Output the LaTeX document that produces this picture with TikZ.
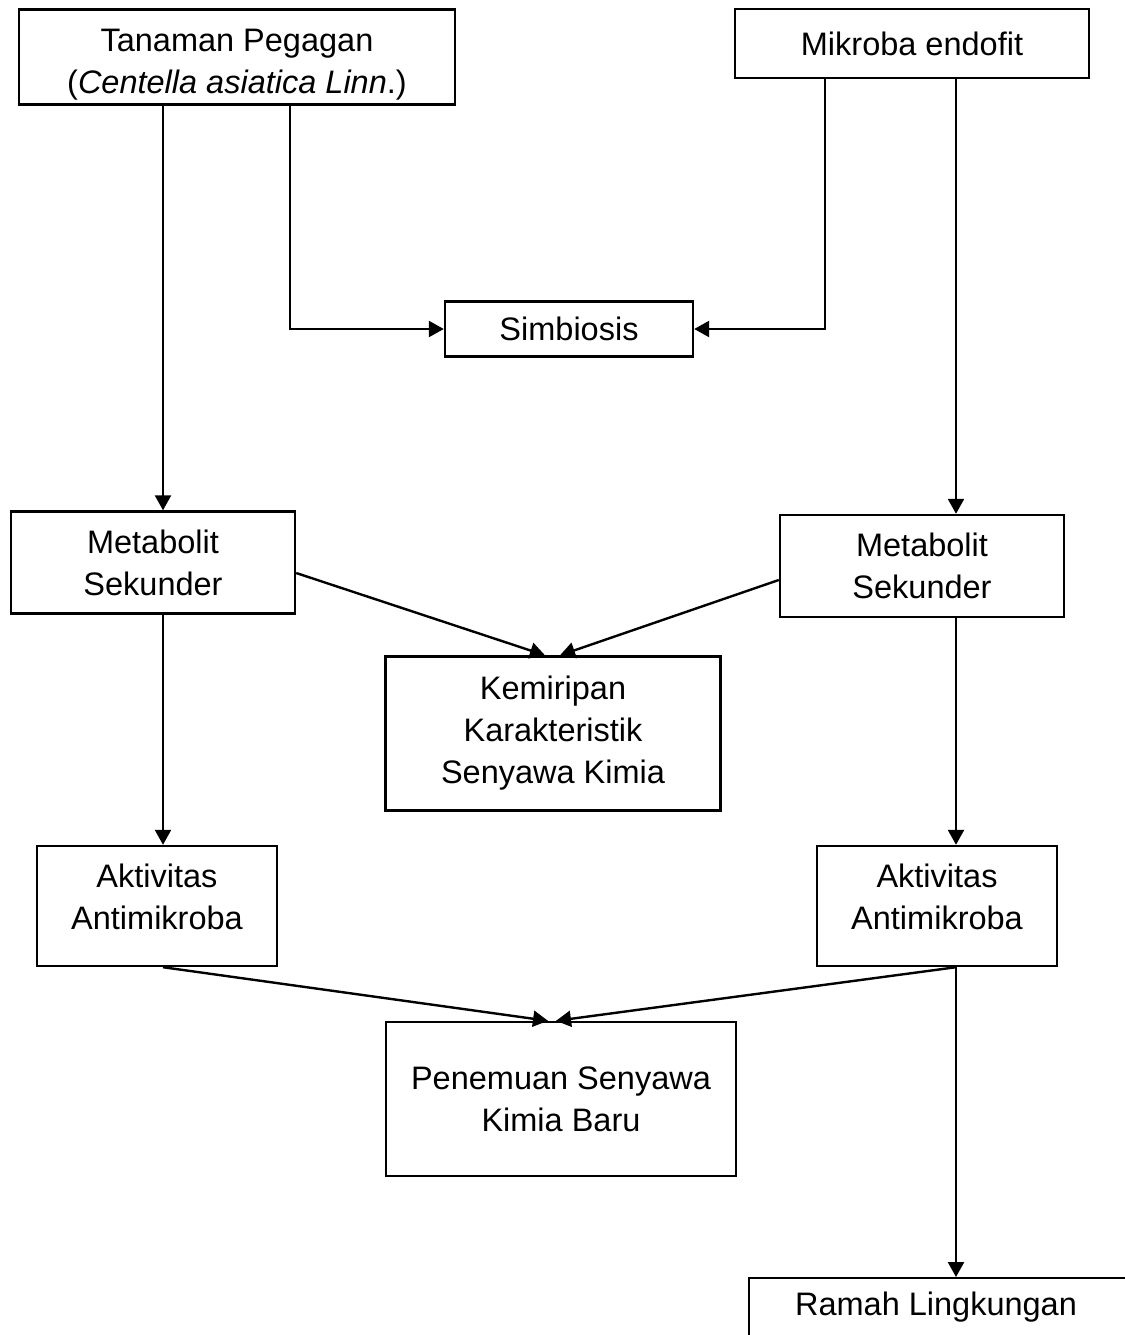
\documentclass[tikz,border=0pt]{standalone}
\usepackage{fontspec}
\setmainfont{Liberation Sans}
\usetikzlibrary{arrows.meta}
\begin{document}
\begin{tikzpicture}[x=1pt,y=-1pt,
  box/.style={draw,line width=2.4pt,rectangle,inner sep=0pt,align=center,
    font=\fontsize{32.5}{42}\selectfont},
  txt/.style={inner sep=0pt,align=center,font=\fontsize{32.5}{42}\selectfont},
  arr/.style={line width=2.4pt,-{Triangle[length=15pt,width=16pt]}}]
\useasboundingbox (0,0) rectangle (1124,1335);
\node[box,minimum width=436,minimum height=95] (A) at (237,57) {};
\node[txt] (At) at (237,65) {Tanaman Pegagan\\(\textit{Centella asiatica Linn}.)};
\node[box,minimum width=354,minimum height=69] (B) at (912,43.5) {Mikroba endofit};
\node[box,minimum width=248,minimum height=55] (S) at (569,329) {Simbiosis};
\node[box,minimum width=284,minimum height=102] (ML) at (153,562.5) {Metabolit\\Sekunder};
\node[box,minimum width=284,minimum height=102] (MR) at (922,566) {Metabolit\\Sekunder};
\node[box,minimum width=335,minimum height=154] (K) at (553,733.5) {Kemiripan\\Karakteristik\\Senyawa Kimia};
\node[box,minimum width=240,minimum height=120] (AL) at (157,906) {};
\node[txt] (ALt) at (157,897) {Aktivitas\\Antimikroba};
\node[box,minimum width=240,minimum height=120] (AR) at (937,906) {};
\node[txt] (ARt) at (937,897) {Aktivitas\\Antimikroba};
\node[box,minimum width=350,minimum height=154] (P) at (561,1099) {Penemuan Senyawa\\Kimia Baru};
\node[box,anchor=north west,minimum width=420,minimum height=130] (R) at (748,1277) {};
\node[txt] (RT) at (936,1307) {Ramah Lingkungan};
\coordinate (xL) at (163,0);
\coordinate (xS) at (290,0);
\coordinate (xB) at (825,0);
\coordinate (xR) at (956,0);
\coordinate (yS) at (0,329);
\coordinate (kl) at (545,0);
\coordinate (kr) at (560,0);
\coordinate (pl) at (548,0);
\coordinate (pr) at (556,0);
\draw[arr] (A.south -| xL) -- (ML.north -| xL);
\draw[arr] (A.south -| xS) -- (xS |- yS) -- (S.west);
\draw[arr] (B.south -| xB) -- (xB |- yS) -- (S.east);
\draw[arr] (B.south -| xR) -- (MR.north -| xR);
\draw[arr] ([yshift=-10.5]ML.east) -- (K.north -| kl);
\draw[arr] ([yshift=-14]MR.west) -- (K.north -| kr);
\draw[arr] (ML.south -| xL) -- (AL.north -| xL);
\draw[arr] (MR.south -| xR) -- (AR.north -| xR);
\draw[arr] (AL.south -| xL) -- (P.north -| pl);
\draw[arr] (AR.south -| xR) -- (P.north -| pr);
\draw[arr] (AR.south -| xR) -- (R.north -| xR);
\end{tikzpicture}
\end{document}
